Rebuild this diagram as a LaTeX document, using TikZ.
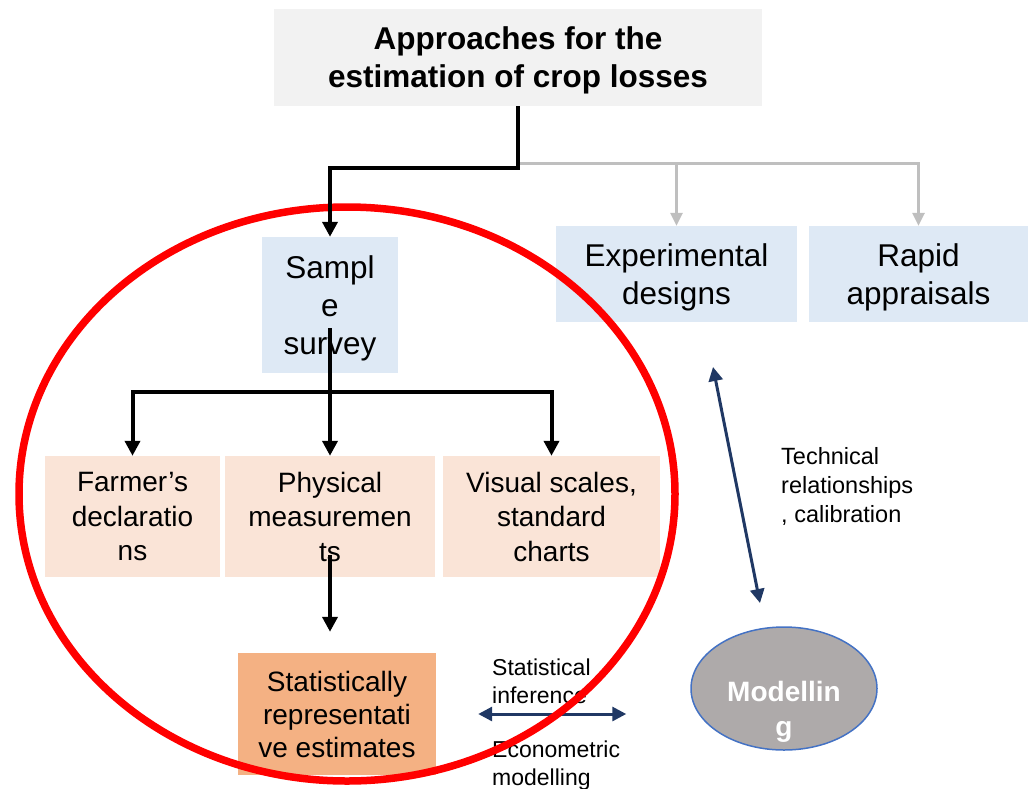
\documentclass[tikz,border=0pt]{standalone}
\usepackage{fontspec}
\setmainfont{Liberation Sans}
\usepackage{xcolor}
\usetikzlibrary{arrows.meta,positioning,calc,shapes.geometric}
\definecolor{titlegray}{HTML}{F2F2F2}
\definecolor{boxblue}{HTML}{DEE9F5}
\definecolor{boxpeach}{HTML}{FAE4D7}
\definecolor{boxorange}{HTML}{F4B183}
\definecolor{modelgray}{HTML}{AEAAAA}
\definecolor{modelblue}{HTML}{4472C4}
\definecolor{navyline}{HTML}{203864}
\definecolor{connectgray}{HTML}{BFBFBF}
\definecolor{ringred}{HTML}{FF0000}

\begin{document}
\begin{tikzpicture}[
    x=1pt,y=-1pt,
    line join=miter,
    titlebox/.style={fill=titlegray, inner sep=0pt, minimum width=488pt, minimum height=97pt, text depth=0pt, align=center, font=\fontsize{31.5}{38}\selectfont\bfseries},
    topbox/.style={fill=boxblue, inner sep=0pt, minimum height=96pt, text depth=0pt, align=center, font=\fontsize{31.5}{38}\selectfont},
    methodbox/.style={fill=boxpeach, inner sep=0pt, minimum height=121pt, align=center, font=\fontsize{28}{34.5}\selectfont},
    resultbox/.style={fill=boxorange, inner sep=0pt, minimum width=198pt, minimum height=122pt, align=center, font=\fontsize{28}{33}\selectfont},
    modelnode/.style={ellipse, draw=modelblue, line width=1.5pt, fill=modelgray, minimum width=186pt, minimum height=123pt, inner sep=0pt},
    sidelabel/.style={inner sep=0pt, align=left, font=\fontsize{23}{28}\selectfont},
    blackflow/.style={-{Triangle[length=15pt,width=15pt]}, line width=4pt, draw=black},
    greyflow/.style={-{Triangle[length=13pt,width=12pt]}, line width=3pt, draw=connectgray},
    navyflow/.style={{Triangle[length=14pt,width=14pt]}-{Triangle[length=14pt,width=14pt]}, line width=3pt, draw=navyline}
]
\useasboundingbox (0,0) rectangle (1028,788);

% Title
\node[titlebox] (title) at (518,57.5) {Approaches for the\\estimation of crop losses};

% First level
\node[topbox, minimum width=136pt, minimum height=136pt] (survey) at (330,305) {Sampl\\e\\survey};
\node[topbox, minimum width=241pt] (expdes) at (676.5,274) {Experimental\\designs};
\node[topbox, minimum width=219pt] (rapid) at (918.5,274) {Rapid\\appraisals};

% Second level
\node[methodbox, minimum width=175pt] (farmer) at (132.5,516.5) {Farmer’s\\declaratio\\ns};
\node[methodbox, minimum width=210pt] (physical) at (330,516.5) {Physical\\measuremen\\ts};
\node[methodbox, minimum width=217pt] (visual) at (551.5,516.5) {Visual scales,\\standard\\charts};

% Results
\node[resultbox] (estimates) at (337,714) {Statistically\\representati\\ve estimates};
\node[modelnode, label={[font=\fontsize{28}{35}\selectfont\bfseries, text=white, align=center, yshift=-23pt]center:Modellin\\g}] (modelling) at (784,688.5) {};

% Links to modelling
\coordinate (techtop) at (713,367);
\coordinate (techbot) at (760,603);
\draw[navyflow] (techtop) -- (techbot);
\node[sidelabel, font=\fontsize{23.5}{29}\selectfont, anchor=base west] (techlabel) at (781,522) {Technical\\relationships\\, calibration};

\draw[navyflow, shorten <=42pt, shorten >=64pt] (estimates.east) -- (estimates.east -| modelling.west);
\node[sidelabel, anchor=base west] (statlabel) at (492,703) {Statistical\\inference};
\node[sidelabel, anchor=base west] (econlabel) at (492,785) {Econometric\\modelling};

% Red ring
\draw[ringred, line width=7.5pt] (347,494) ellipse [x radius=328pt, y radius=287pt];

% Connectors
\coordinate (greyfork) at (518,163);
\coordinate (blackfork) at (518,168);
\draw[greyflow] (title.south) -- (greyfork) -| (expdes.north);
\draw[greyflow] (greyfork) -| (rapid.north);
\draw[blackflow] (title.south) -- (blackfork) -| (survey.north);

\coordinate (surveyfork) at (330,392);
\draw[blackflow] ([yshift=-23pt]survey.center) -- (surveyfork) -| (farmer.north);
\draw[blackflow] (surveyfork) -- (physical.north);
\draw[blackflow] (surveyfork) -| (visual.north);
\draw[blackflow, shorten >=21pt] ([yshift=-38pt]physical.center) -- (physical.center |- estimates.north);

\end{tikzpicture}
\end{document}
